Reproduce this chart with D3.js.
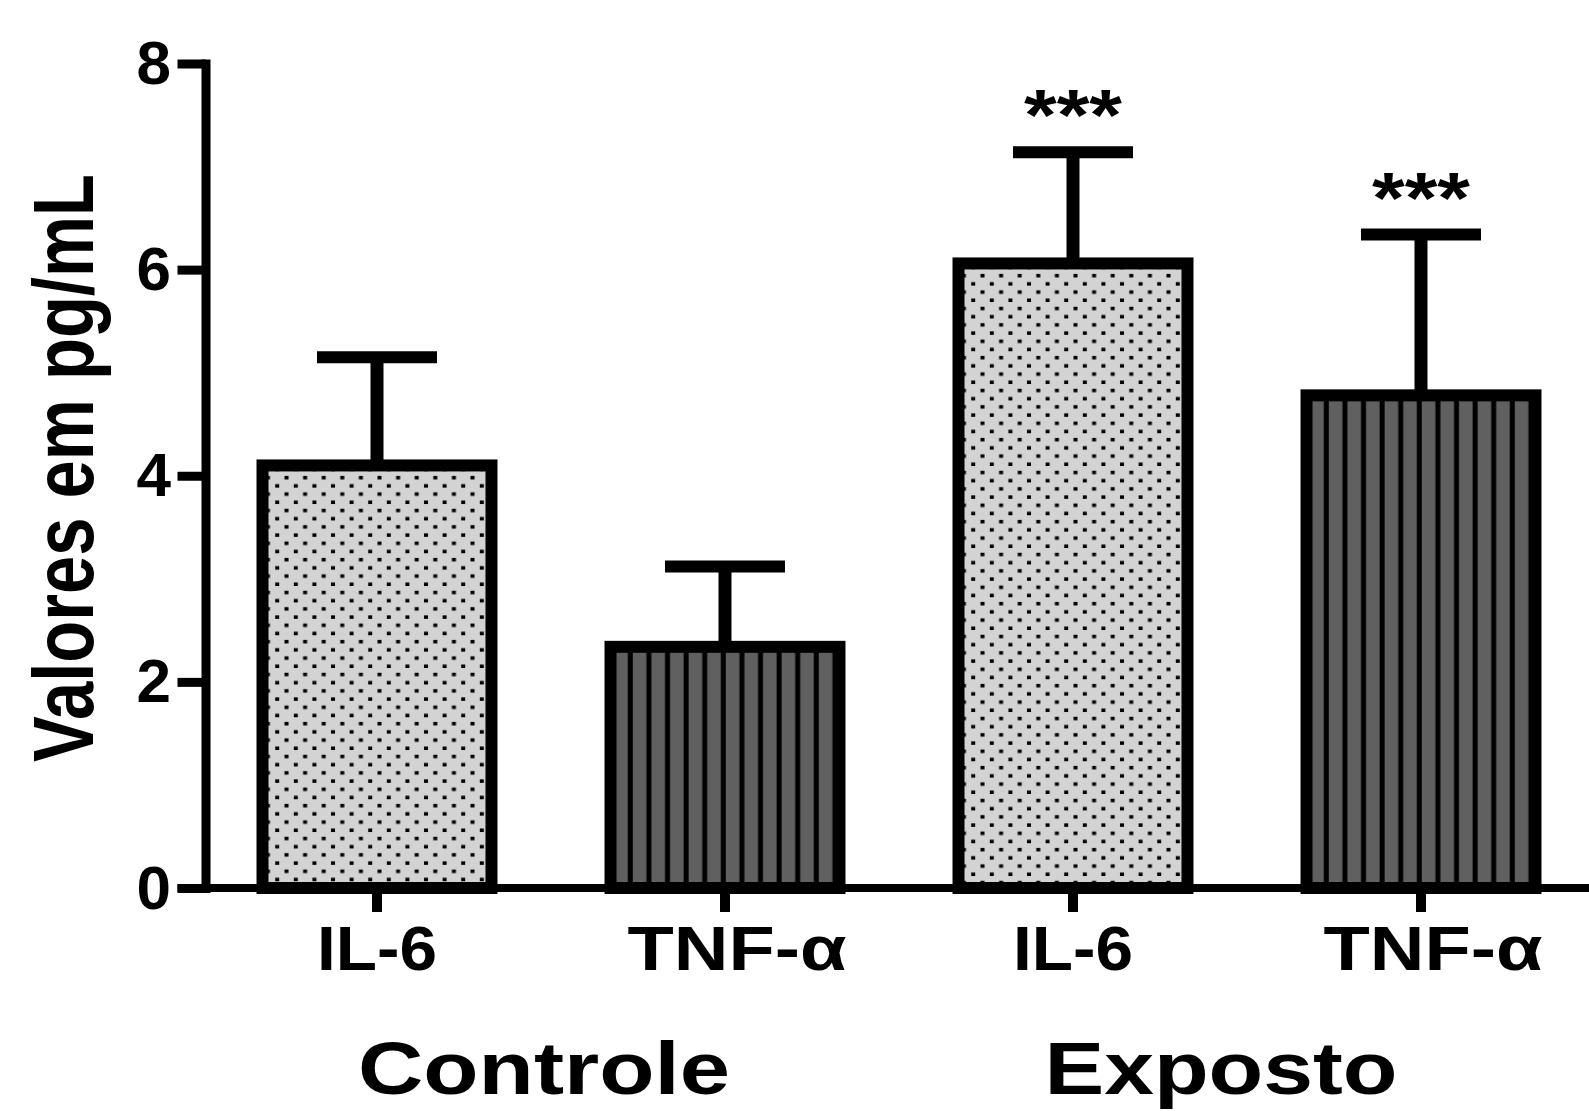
<!DOCTYPE html>
<html>
<head>
<meta charset="utf-8">
<script src="https://cdn.jsdelivr.net/npm/d3@7"></script>
<style>
  html, body { margin: 0; padding: 0; background: #fff; }
  svg { display: block; }
  text { font-family: "Liberation Sans", Arial, sans-serif; font-weight: bold; fill: #000; }
</style>
</head>
<body>
<svg id="chart" width="1589" height="1111"></svg>
<script>
// ---- data ----
const categories = ["IL-6", "TNF-α", "IL-6", "TNF-α"];
const groups = ["Controle", "Exposto"];
const groupOf = [0, 0, 1, 1];
const means = [4.1, 2.34, 6.06, 4.78];
const errors = [1.05, 0.78, 1.08, 1.56];
const significance = ["", "", "***", "***"];
const yTicks = [0, 2, 4, 6, 8];
const fillKind = ["dots", "stripes", "dots", "stripes"];

// ---- style / layout ----
const W = 1589, H = 1111;
const axisX = 205.5;
const yRange = [888, 63.5];
const xRange = [203, 1595];
const barStroke = 12;
const lightGray = "#d3d3d3";
const darkGray = "#606060";
const catLabelLen = { "IL-6": 120, "TNF-α": 219 };
const catLabelDx = { "IL-6": 0, "TNF-α": 12 };
const groupLabelDx = [-7, -26];
const groupLabelLen = [372, 353];

const svg = d3.select("#chart");
const defs = svg.append("defs");

const y = d3.scaleLinear().domain([0, 8]).range(yRange);
const x = d3.scaleBand().domain(d3.range(categories.length)).range(xRange)
  .paddingInner(0.342).paddingOuter(0.171);

const bars = d3.range(categories.length).map(i => ({
  i, cat: categories[i], mean: means[i], err: errors[i], sig: significance[i], kind: fillKind[i],
  x: x(i), w: x.bandwidth(), top: y(means[i])
}));

// patterns per bar
bars.forEach(b => {
  if (b.kind === "dots") {
    const p = defs.append("pattern").attr("id", "pat" + b.i)
      .attr("patternUnits", "userSpaceOnUse")
      .attr("x", b.x).attr("y", b.top).attr("width", 18.6).attr("height", 16.4);
    p.append("rect").attr("width", 18.6).attr("height", 16.4).attr("fill", lightGray);
    p.append("rect").attr("x", 3.4).attr("y", 10.5).attr("width", 4).attr("height", 3.5).attr("fill", "#000");
    p.append("rect").attr("x", 12.7).attr("y", 2.3).attr("width", 4).attr("height", 3.5).attr("fill", "#000");
  } else {
    const p = defs.append("pattern").attr("id", "pat" + b.i)
      .attr("patternUnits", "userSpaceOnUse")
      .attr("x", b.x).attr("y", b.top).attr("width", 18.6).attr("height", 20);
    p.append("rect").attr("width", 18.6).attr("height", 20).attr("fill", darkGray);
    p.append("rect").attr("x", 17.3).attr("y", 0).attr("width", 5).attr("height", 20).attr("fill", "#000");
    p.append("rect").attr("x", -1.3).attr("y", 0).attr("width", 5).attr("height", 20).attr("fill", "#000");
  }
});

// error bars
const eb = svg.append("g").selectAll("g").data(bars).join("g");
eb.append("line")
  .attr("x1", d => d.x + d.w / 2).attr("x2", d => d.x + d.w / 2)
  .attr("y1", d => y(d.mean)).attr("y2", d => y(d.mean + d.err))
  .attr("stroke", "#000").attr("stroke-width", 13);
eb.append("line")
  .attr("x1", d => d.x + d.w / 2 - 60).attr("x2", d => d.x + d.w / 2 + 60)
  .attr("y1", d => y(d.mean + d.err)).attr("y2", d => y(d.mean + d.err))
  .attr("stroke", "#000").attr("stroke-width", 12);

// bars
svg.append("g").selectAll("rect").data(bars).join("rect")
  .attr("x", d => d.x).attr("width", d => d.w)
  .attr("y", d => y(d.mean)).attr("height", d => y(0) - y(d.mean))
  .attr("fill", d => `url(#pat${d.i})`)
  .attr("stroke", "#000").attr("stroke-width", barStroke);

// significance stars
svg.append("g").selectAll("text").data(bars.filter(d => d.sig)).join("text")
  .attr("x", d => d.x + d.w / 2)
  .attr("y", d => y(d.mean + d.err) - 12)
  .attr("text-anchor", "middle")
  .attr("font-size", 72)
  .attr("textLength", 98).attr("lengthAdjust", "spacingAndGlyphs")
  .text(d => d.sig);

// x baseline
svg.append("line")
  .attr("x1", axisX - 28).attr("x2", W)
  .attr("y1", y(0)).attr("y2", y(0))
  .attr("stroke", "#000").attr("stroke-width", 8);

// x axis ticks + labels
const xAxis = d3.axisBottom(x).tickSize(24).tickSizeOuter(0).tickFormat(i => categories[i]);
const gx = svg.append("g").attr("transform", `translate(0,${y(0)})`).call(xAxis);
gx.select(".domain").remove();
gx.selectAll(".tick line").attr("stroke", "#000").attr("stroke-width", 10);
gx.selectAll(".tick text")
  .attr("y", 82).attr("dy", null)
  .attr("dx", i => catLabelDx[categories[i]])
  .attr("font-size", 63)
  .attr("textLength", i => catLabelLen[categories[i]])
  .attr("lengthAdjust", "spacingAndGlyphs")
  .attr("fill", "#000");

// y axis
const yAxis = d3.axisLeft(y).tickValues(yTicks).tickSize(28).tickSizeOuter(0);
const gy = svg.append("g").attr("transform", `translate(${axisX},0)`).call(yAxis);
gy.select(".domain").attr("stroke", "#000").attr("stroke-width", 9).attr("stroke-linecap", "square");
gy.selectAll(".tick line").attr("stroke", "#000").attr("stroke-width", 9);
gy.selectAll(".tick text")
  .attr("x", -34.5).attr("dy", null).attr("y", 20)
  .attr("font-size", 62).attr("fill", "#000");
gy.attr("font-family", null).attr("font-size", null);
gx.attr("font-family", null).attr("font-size", null);

// y label
svg.append("text")
  .attr("transform", `translate(93,468) rotate(-90)`)
  .attr("text-anchor", "middle")
  .attr("font-size", 86)
  .attr("textLength", 588).attr("lengthAdjust", "spacingAndGlyphs")
  .text("Valores em pg/mL");

// group labels
svg.append("g").selectAll("text").data(groups).join("text")
  .attr("x", (g, gi) => {
    const idx = d3.range(categories.length).filter(i => groupOf[i] === gi);
    return d3.mean(idx, i => x(i) + x.bandwidth() / 2) + groupLabelDx[gi];
  })
  .attr("y", 1094)
  .attr("text-anchor", "middle")
  .attr("font-size", 75)
  .attr("textLength", (g, gi) => groupLabelLen[gi]).attr("lengthAdjust", "spacingAndGlyphs")
  .text(g => g);
</script>
</body>
</html>
